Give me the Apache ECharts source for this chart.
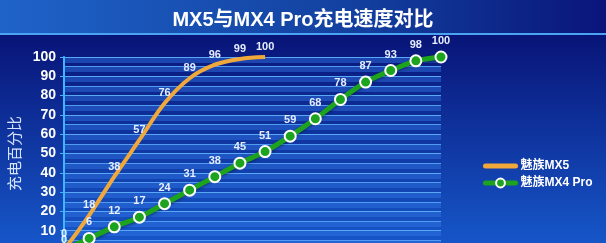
<!DOCTYPE html>
<html><head><meta charset="utf-8">
<script src="https://cdn.jsdelivr.net/npm/echarts@6/dist/echarts.min.js"></script>
<style>html,body{margin:0;padding:0;background:#0a1470}#c{width:606px;height:243px}</style>
</head><body><div id="c"></div>
<script>
const categories = ['0','1','2','3','4','5','6','7','8','9','10','11','12','13','14','15'];
const mx5 = [0, 18, 38, 57, 76, 89, 96, 99, 100];
const mx4pro = [0, 6, 12, 17, 24, 31, 38, 45, 51, 59, 68, 78, 87, 93, 98, 100];
const yTicks = [0, 100, 10];

const chart = echarts.init(document.getElementById('c'));
const labelStyle = {show:true, position:'top', color:'#e6eeff', fontWeight:'bold', fontSize:11, fontFamily:'Liberation Sans, Arial, sans-serif', distance:4};
chart.setOption({
  backgroundColor: {type:'linear', x:0, y:0, x2:0, y2:1, colorStops:[{offset:0, color:'#06096a'},{offset:1, color:'#1656c8'}]},
  graphic: [
    {type:'rect', z:-1, shape:{x:0, y:0, width:606, height:34}, style:{fill:{type:'linear', x:0, y:0, x2:1, y2:0, colorStops:[{offset:0, color:'#1f63c9'},{offset:0.6, color:'#123f9e'},{offset:1, color:'#0a157a'}]}}},
    {type:'rect', z:-1, shape:{x:0, y:33, width:606, height:2}, style:{fill:'#4aa4f2'}}
  ],
  title: {text:'MX5与MX4 Pro充电速度对比', left:'center', top:5, textStyle:{color:'#ffffff', fontSize:20, fontWeight:'bold', fontFamily:'Liberation Sans, Arial, Noto Sans CJK SC, sans-serif'}},
  legend: {
    orient:'vertical', left:478, top:155, itemWidth:30, itemHeight:11, itemGap:5,
    lineStyle:{width:5, cap:'round'},
    textStyle:{color:'#ffffff', fontSize:12, fontWeight:'bold', fontFamily:'Liberation Sans, Arial, Noto Sans CJK SC, sans-serif'},
    data:['魅族MX5', '魅族MX4 Pro']
  },
  grid: [
    {left:64, width:377, top:57, height:193, containLabel:false, outerBoundsMode:'none'},
    {left:64, width:377, top:60, height:193, containLabel:false, outerBoundsMode:'none'}
  ],
  xAxis: [
    {type:'category', data:categories, boundaryGap:false, show:false, gridIndex:0},
    {type:'category', data:categories, boundaryGap:false, show:false, gridIndex:1}
  ],
  yAxis: [{
    type:'value', gridIndex:0, min:yTicks[0], max:yTicks[1], interval:yTicks[2], z:3,
    name:'充电百分比', nameLocation:'middle', nameGap:30, nameRotate:90,
    nameTextStyle:{color:'#d6e4ff', fontSize:15, fontFamily:'Noto Sans CJK SC, sans-serif'},
    axisLine:{show:true, lineStyle:{color:'#3fb4ff', width:2}},
    axisTick:{show:true, length:4, lineStyle:{color:'#3fb4ff'}},
    axisLabel:{color:'#ffffff', fontSize:14, fontWeight:'bold', margin:8, fontFamily:'Liberation Sans, Arial, sans-serif'},
    splitLine:{lineStyle:{color:'#58a8f6', width:1.2}},
    minorTick:{show:false, splitNumber:2},
    minorSplitLine:{show:true, lineStyle:{color:'#4f9cf0', width:1}}
  },{
    type:'value', gridIndex:1, min:0, max:100, interval:5, z:1,
    axisLine:{show:false}, axisTick:{show:false}, axisLabel:{show:false},
    splitLine:{lineStyle:{color:'rgba(50,120,230,0.45)', width:5}}
  }],
  series: [
    {name:'魅族MX5', type:'line', data:mx5, smooth:0.35, symbol:'circle', symbolSize:1, showSymbol:true,
     lineStyle:{color:'#f0a83a', width:4}, itemStyle:{color:'rgba(0,0,0,0)'},
     label:labelStyle, z:3},
    {name:'魅族MX4 Pro', type:'line', data:mx4pro, smooth:0.3, symbol:'circle', symbolSize:11,
     lineStyle:{color:'#1ea31e', width:5, shadowColor:'rgba(0,20,60,0.6)', shadowBlur:3, shadowOffsetY:1},
     itemStyle:{color:'#1ea31e', borderColor:'#ffffff', borderWidth:2},
     label:labelStyle, z:4}
  ]
});
</script></body></html>
